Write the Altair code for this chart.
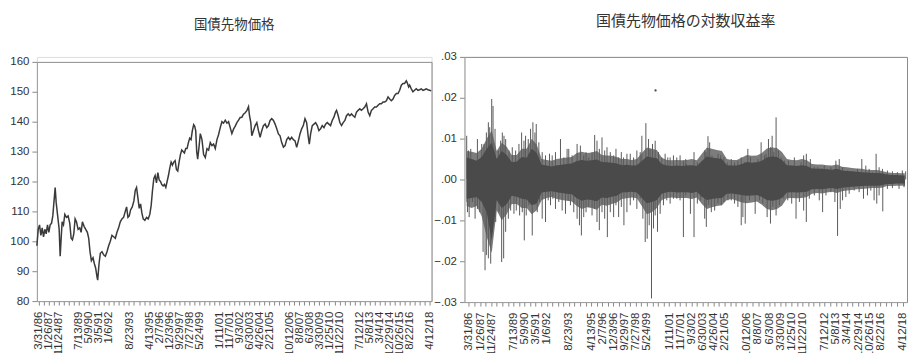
import altair as alt
import pandas as pd

# ---------------- data ----------------
panel_titles = ["国債先物価格", "国債先物価格の対数収益率"]

# x-axis labels, one per major tick (every 200 observations, starting at obs 40)
tick_labels = ["3/31/86", "1/26/87", "11/24/87", "", "7/13/89", "5/9/90", "3/5/91", "1/6/92", "",
               "8/23/93", "", "4/13/95", "2/7/96", "12/3/96", "9/29/97", "7/27/98", "5/24/99", "",
               "1/11/01", "11/7/01", "9/3/02", "6/30/03", "4/26/04", "2/21/05", "", "10/12/06",
               "8/8/07", "6/3/08", "3/30/09", "1/25/10", "11/22/10", "", "7/12/12", "5/8/13",
               "3/4/14", "12/29/14", "10/26/15", "8/22/16", "", "4/12/18"]

price_ticks = [80, 90, 100, 110, 120, 130, 140, 150, 160]
return_ticks = [-0.03, -0.02, -0.01, 0.0, 0.01, 0.02, 0.03]

price_points = [
    (0, 98.5), (27, 104), (53, 105.5), (80, 102), (106, 104.5), (133, 101.5), (159, 104),
    (186, 102.5), (212, 105.5), (239, 103), (265, 105.5), (292, 106), (318, 108.5), (345, 114),
    (365, 118), (385, 113), (405, 110), (425, 107), (445, 104), (465, 95), (485, 101),
    (504, 106.5), (531, 105.5), (558, 109), (591, 108), (624, 108.5), (657, 106), (684, 101),
    (710, 100.5), (737, 102.5), (763, 107.5), (790, 106.5), (823, 104), (856, 104.5), (883, 103),
    (909, 106.5), (942, 105), (975, 104), (1008, 103), (1035, 101), (1061, 96.5), (1088, 93.5),
    (1121, 94.5), (1148, 92.5), (1174, 91), (1201, 88), (1214, 87), (1241, 92.5), (1267, 96),
    (1300, 96.5), (1333, 95.5), (1367, 95), (1400, 96.5), (1433, 98.5), (1466, 100), (1499, 102),
    (1532, 101.5), (1566, 101), (1599, 103), (1632, 104.5), (1665, 106.5), (1698, 107.5),
    (1731, 108), (1765, 110), (1791, 111.5), (1818, 108), (1844, 108.5), (1871, 110.5),
    (1904, 111.5), (1937, 113.5), (1964, 117), (1990, 118), (2017, 114.5), (2043, 111),
    (2070, 112.5), (2096, 109.5), (2123, 107.5), (2156, 107), (2189, 108), (2222, 107.5),
    (2255, 109), (2282, 112), (2308, 117), (2335, 121), (2361, 122), (2388, 119.5), (2415, 123),
    (2441, 120.5), (2468, 120), (2494, 119), (2521, 118.5), (2547, 119), (2574, 118), (2600, 120),
    (2627, 122), (2653, 124.5), (2680, 126.5), (2706, 125.5), (2733, 126.5), (2760, 127),
    (2786, 124), (2812, 123.5), (2839, 126.5), (2866, 129), (2892, 130.5), (2919, 130),
    (2945, 129.5), (2972, 131), (2998, 131), (3025, 133), (3051, 134.5), (3078, 134), (3104, 137),
    (3131, 139), (3151, 138.5), (3171, 137), (3191, 130), (3210, 127.5), (3237, 131.5),
    (3263, 136), (3296, 134), (3329, 129), (3362, 128), (3396, 131), (3429, 130.5), (3462, 133),
    (3495, 132), (3528, 132.5), (3562, 131), (3595, 134), (3628, 135.7), (3661, 138), (3694, 140),
    (3727, 139.5), (3761, 140.5), (3794, 139.5), (3827, 140), (3860, 138), (3893, 136),
    (3926, 137.5), (3960, 138.5), (3993, 139.7), (4026, 140.5), (4059, 141.4), (4092, 141.5),
    (4125, 142.5), (4159, 143), (4192, 143.7), (4225, 145), (4245, 142), (4271, 139.7),
    (4291, 135.3), (4324, 137), (4358, 138.7), (4391, 139.7), (4424, 137), (4457, 134.8),
    (4490, 137), (4523, 138.7), (4557, 139.2), (4590, 138), (4623, 138.7), (4656, 140.4),
    (4689, 141), (4723, 140.4), (4756, 139.2), (4789, 137.6), (4822, 135.9), (4855, 135.3),
    (4888, 133), (4922, 131.5), (4955, 132), (4988, 134), (5021, 134.8), (5054, 134),
    (5087, 134.8), (5121, 134), (5154, 133.6), (5187, 131.4), (5220, 133.6), (5253, 135.9),
    (5286, 137.6), (5319, 138.7), (5353, 141), (5386, 139.7), (5419, 134.8), (5439, 132.5),
    (5465, 135.9), (5498, 138.7), (5532, 139.2), (5565, 139.7), (5598, 138.7), (5631, 137),
    (5664, 137.6), (5697, 138.7), (5731, 138), (5764, 139.2), (5797, 139.7), (5830, 139.2),
    (5863, 138.7), (5896, 140.4), (5930, 141.5), (5963, 143.2), (5983, 143.8), (6016, 142),
    (6049, 139.7), (6082, 138.7), (6115, 139.7), (6149, 140.4), (6182, 142), (6215, 142.6),
    (6248, 142), (6281, 142.6), (6314, 142), (6348, 141.5), (6381, 143.2), (6414, 143.8),
    (6447, 144.3), (6480, 143.8), (6513, 144.3), (6546, 144.9), (6580, 146), (6613, 143.2),
    (6646, 142), (6679, 143.8), (6712, 144.3), (6745, 144.9), (6779, 144.9), (6812, 145.5),
    (6845, 146), (6878, 146), (6911, 146.6), (6944, 146.6), (6978, 147), (7011, 148.3),
    (7044, 147.6), (7077, 147), (7110, 147.6), (7143, 148.8), (7177, 149.4), (7210, 149.4),
    (7243, 150.5), (7276, 152.2), (7309, 152.8), (7342, 152.8), (7375, 153.7), (7395, 153),
    (7422, 151.6), (7442, 152.2), (7475, 151), (7508, 150), (7541, 150.5), (7574, 151),
    (7608, 150.5), (7641, 150.7), (7674, 151), (7707, 150.5), (7740, 150.7), (7773, 151),
    (7806, 150.7), (7840, 150.5), (7873, 150.3),
]

# log-return series: dense dark core (obs, upper, lower)
return_core = [
    (0, 0.0054, -0.0047), (90, 0.0050, -0.0045), (180, 0.0046, -0.0043), (270, 0.0055, -0.0055),
    (360, 0.0075, -0.0080), (450, 0.0090, -0.0150), (540, 0.0050, -0.0050), (630, 0.0070, -0.0070),
    (720, 0.0060, -0.0060), (810, 0.0042, -0.0040), (900, 0.0044, -0.0042), (990, 0.0055, -0.0047),
    (1080, 0.0053, -0.0049), (1170, 0.0075, -0.0063), (1260, 0.0065, -0.0058), (1350, 0.0036, -0.0032),
    (1440, 0.0034, -0.0030), (1530, 0.0032, -0.0029), (1620, 0.0035, -0.0031), (1710, 0.0036, -0.0033),
    (1800, 0.0038, -0.0035), (1890, 0.0039, -0.0036), (1980, 0.0045, -0.0046), (2070, 0.0048, -0.0052),
    (2160, 0.0046, -0.0049), (2250, 0.0047, -0.0050), (2340, 0.0049, -0.0053), (2430, 0.0043, -0.0044),
    (2520, 0.0042, -0.0045), (2610, 0.0041, -0.0042), (2700, 0.0039, -0.0040), (2790, 0.0035, -0.0032),
    (2880, 0.0036, -0.0031), (2970, 0.0034, -0.0030), (3060, 0.0035, -0.0032), (3150, 0.0045, -0.0045),
    (3240, 0.0056, -0.0058), (3330, 0.0054, -0.0055), (3420, 0.0052, -0.0050), (3510, 0.0038, -0.0035),
    (3600, 0.0034, -0.0031), (3690, 0.0033, -0.0030), (3780, 0.0034, -0.0032), (3870, 0.0033, -0.0031),
    (3960, 0.0034, -0.0031), (4050, 0.0035, -0.0033), (4140, 0.0033, -0.0030), (4230, 0.0045, -0.0042),
    (4320, 0.0056, -0.0050), (4410, 0.0054, -0.0048), (4500, 0.0052, -0.0046), (4590, 0.0050, -0.0045),
    (4680, 0.0035, -0.0035), (4770, 0.0034, -0.0034), (4860, 0.0034, -0.0036), (4950, 0.0038, -0.0038),
    (5040, 0.0043, -0.0040), (5130, 0.0041, -0.0039), (5220, 0.0042, -0.0038), (5310, 0.0046, -0.0043),
    (5400, 0.0054, -0.0050), (5490, 0.0056, -0.0052), (5580, 0.0055, -0.0050), (5670, 0.0048, -0.0045),
    (5760, 0.0035, -0.0032), (5850, 0.0034, -0.0031), (5940, 0.0033, -0.0032), (6030, 0.0035, -0.0031),
    (6120, 0.0033, -0.0030), (6210, 0.0027, -0.0024), (6300, 0.0026, -0.0023), (6390, 0.0026, -0.0024),
    (6480, 0.0025, -0.0022), (6570, 0.0024, -0.0021), (6660, 0.0026, -0.0023), (6750, 0.0022, -0.0020),
    (6840, 0.0021, -0.0019), (6930, 0.0020, -0.0018), (7020, 0.0019, -0.0017), (7110, 0.0018, -0.0016),
    (7200, 0.0017, -0.0015), (7290, 0.0016, -0.0015), (7380, 0.0016, -0.0015), (7470, 0.0015, -0.0014),
    (7560, 0.0012, -0.0011), (7650, 0.0011, -0.0011), (7740, 0.0011, -0.0010), (7830, 0.0010, -0.0010),
    (7880, 0.0010, -0.0010),
]

# lighter fringe of frequent moderate returns (obs, upper, lower)
return_fringe = [
    (0, 0.0070, -0.0065), (90, 0.0068, -0.0070), (180, 0.0065, -0.0065), (270, 0.0075, -0.0090),
    (360, 0.0100, -0.0140), (450, 0.0120, -0.0180), (540, 0.0070, -0.0075), (630, 0.0090, -0.0100),
    (720, 0.0080, -0.0085), (810, 0.0060, -0.0060), (900, 0.0060, -0.0060), (990, 0.0075, -0.0070),
    (1080, 0.0075, -0.0070), (1170, 0.0100, -0.0085), (1260, 0.0085, -0.0075), (1350, 0.0050, -0.0050),
    (1440, 0.0048, -0.0045), (1530, 0.0046, -0.0043), (1620, 0.0050, -0.0048), (1710, 0.0052, -0.0050),
    (1800, 0.0054, -0.0052), (1890, 0.0055, -0.0054), (1980, 0.0065, -0.0065), (2070, 0.0068, -0.0072),
    (2160, 0.0065, -0.0068), (2250, 0.0066, -0.0070), (2340, 0.0070, -0.0074), (2430, 0.0060, -0.0062),
    (2520, 0.0059, -0.0064), (2610, 0.0058, -0.0060), (2700, 0.0055, -0.0056), (2790, 0.0050, -0.0048),
    (2880, 0.0050, -0.0046), (2970, 0.0048, -0.0044), (3060, 0.0050, -0.0046), (3150, 0.0065, -0.0065),
    (3240, 0.0078, -0.0085), (3330, 0.0075, -0.0080), (3420, 0.0072, -0.0070), (3510, 0.0053, -0.0050),
    (3600, 0.0048, -0.0045), (3690, 0.0047, -0.0044), (3780, 0.0048, -0.0045), (3870, 0.0047, -0.0045),
    (3960, 0.0048, -0.0045), (4050, 0.0050, -0.0048), (4140, 0.0047, -0.0044), (4230, 0.0063, -0.0060),
    (4320, 0.0078, -0.0072), (4410, 0.0075, -0.0068), (4500, 0.0072, -0.0065), (4590, 0.0070, -0.0063),
    (4680, 0.0050, -0.0050), (4770, 0.0048, -0.0048), (4860, 0.0048, -0.0052), (4950, 0.0054, -0.0056),
    (5040, 0.0060, -0.0058), (5130, 0.0058, -0.0056), (5220, 0.0059, -0.0054), (5310, 0.0065, -0.0062),
    (5400, 0.0076, -0.0072), (5490, 0.0078, -0.0075), (5580, 0.0077, -0.0072), (5670, 0.0067, -0.0064),
    (5760, 0.0050, -0.0046), (5850, 0.0048, -0.0045), (5940, 0.0047, -0.0046), (6030, 0.0050, -0.0045),
    (6120, 0.0047, -0.0043), (6210, 0.0038, -0.0035), (6300, 0.0037, -0.0033), (6390, 0.0037, -0.0034),
    (6480, 0.0035, -0.0032), (6570, 0.0034, -0.0030), (6660, 0.0037, -0.0033), (6750, 0.0031, -0.0029),
    (6840, 0.0030, -0.0027), (6930, 0.0028, -0.0026), (7020, 0.0027, -0.0024), (7110, 0.0026, -0.0023),
    (7200, 0.0024, -0.0022), (7290, 0.0023, -0.0021), (7380, 0.0023, -0.0021), (7470, 0.0021, -0.0020),
    (7560, 0.0018, -0.0016), (7650, 0.0016, -0.0016), (7740, 0.0016, -0.0015), (7830, 0.0015, -0.0015),
    (7880, 0.0015, -0.0015),
]

# individual large log returns (obs, value)
return_spikes = [
    (0, 0.0107), (32, 0.0071), (73, 0.0075), (193, 0.0099), (271, 0.0087), (312, 0.0087),
    (354, 0.0115), (390, 0.0140), (414, 0.0128), (450, 0.0197), (474, 0.0180), (510, 0.0124),
    (569, 0.0071), (611, 0.0095), (641, 0.0115), (671, 0.0107), (701, 0.0099), (761, 0.0071),
    (820, 0.0079), (880, 0.0071), (940, 0.0087), (988, 0.0115), (1030, 0.0095), (1059, 0.0107),
    (1107, 0.0099), (1149, 0.0124), (1191, 0.0140), (1227, 0.0115), (1251, 0.0136), (1298, 0.0091),
    (1358, 0.0067), (1418, 0.0059), (1490, 0.0063), (1538, 0.0059), (1597, 0.0067), (1687, 0.0099),
    (1747, 0.0054), (1806, 0.0075), (1836, 0.0075), (1896, 0.0059), (1986, 0.0087), (2045, 0.0083),
    (2105, 0.0059), (2147, 0.0067), (2195, 0.0054), (2255, 0.0067), (2302, 0.0109), (2344, 0.0095),
    (2386, 0.0075), (2434, 0.0103), (2482, 0.0071), (2524, 0.0079), (2583, 0.0067), (2643, 0.0059),
    (2685, 0.0075), (2733, 0.0054), (2781, 0.0067), (2822, 0.0054), (2882, 0.0063), (2942, 0.0063),
    (3002, 0.0054), (3061, 0.0071), (3121, 0.0067), (3151, 0.0107), (3223, 0.0138), (3271, 0.0099),
    (3300, 0.0075), (3342, 0.0087), (3390, 0.0095), (3450, 0.0067), (3510, 0.0054), (3569, 0.0063),
    (3617, 0.0054), (3659, 0.0054), (3719, 0.0059), (3779, 0.0054), (3838, 0.0059), (3898, 0.0046),
    (3940, 0.0050),
    (5, -0.0055), (14, -0.0080), (44, -0.0092), (103, -0.0055), (151, -0.0096), (193, -0.0072),
    (235, -0.0080), (295, -0.0177), (330, -0.0222), (354, -0.0185), (390, -0.0193), (432, -0.0206),
    (462, -0.0128), (492, -0.0104), (522, -0.0104), (581, -0.0080), (629, -0.0202), (665, -0.0193),
    (701, -0.0128), (749, -0.0096), (791, -0.0076), (850, -0.0084), (892, -0.0076), (952, -0.0088),
    (1000, -0.0080), (1036, -0.0149), (1071, -0.0088), (1119, -0.0063), (1179, -0.0137),
    (1227, -0.0063), (1269, -0.0080), (1310, -0.0055), (1358, -0.0096), (1418, -0.0104),
    (1466, -0.0051), (1508, -0.0063), (1550, -0.0047), (1597, -0.0072), (1657, -0.0055),
    (1717, -0.0076), (1777, -0.0084), (1824, -0.0051), (1866, -0.0063), (1926, -0.0080),
    (1986, -0.0096), (2028, -0.0112), (2063, -0.0137), (2105, -0.0092), (2147, -0.0080),
    (2195, -0.0067), (2255, -0.0088), (2297, -0.0072), (2344, -0.0104), (2386, -0.0124),
    (2434, -0.0080), (2482, -0.0096), (2530, -0.0141), (2583, -0.0080), (2643, -0.0092),
    (2685, -0.0063), (2733, -0.0092), (2781, -0.0067), (2828, -0.0112), (2882, -0.0080),
    (2942, -0.0063), (3002, -0.0051), (3061, -0.0072), (3121, -0.0047), (3169, -0.0096),
    (3211, -0.0153), (3247, -0.0145), (3283, -0.0112), (3324, -0.0291), (3360, -0.0120),
    (3390, -0.0088), (3432, -0.0128), (3480, -0.0084), (3539, -0.0063), (3599, -0.0051),
    (3659, -0.0059), (3719, -0.0047), (3779, -0.0047), (3838, -0.0051), (3898, -0.0141),
    (3940, -0.0039),
    (3952, 0.0038), (4012, 0.0034), (4089, 0.0067), (4149, 0.0042), (4191, 0.0034), (4281, 0.0071),
    (4304, 0.0067), (4340, 0.0106), (4370, 0.0091), (4412, 0.0059), (4460, 0.0050), (4520, 0.0063),
    (4567, 0.0059), (4627, 0.0054), (4687, 0.0042), (4759, 0.0050), (4818, 0.0042), (4878, 0.0046),
    (4938, 0.0054), (4998, 0.0042), (5057, 0.0075), (5105, 0.0054), (5177, 0.0042), (5237, 0.0050),
    (5296, 0.0091), (5356, 0.0059), (5386, 0.0063), (5428, 0.0099), (5464, 0.0079), (5494, 0.0107),
    (5524, 0.0067), (5565, 0.0152), (5607, 0.0071), (5655, 0.0054), (5715, 0.0046), (5787, 0.0046),
    (5834, 0.0034), (5894, 0.0054), (5954, 0.0034), (6014, 0.0042), (6061, 0.0059), (6109, 0.0063),
    (6181, 0.0050), (6253, 0.0030), (6312, 0.0030), (6372, 0.0026), (6432, 0.0034), (6492, 0.0026),
    (6551, 0.0030), (6641, 0.0046), (6701, 0.0050), (6761, 0.0030), (6850, 0.0022), (6940, 0.0016),
    (7030, 0.0026), (7107, 0.0050), (7179, 0.0034), (7239, 0.0026), (7298, 0.0018), (7364, 0.0063),
    (7418, 0.0030), (7478, 0.0026), (7567, 0.0022), (7657, 0.0020), (7747, 0.0018), (7836, 0.0022),
    (7896, 0.0020),
    (3940, -0.0031), (4024, -0.0084), (4089, -0.0141), (4149, -0.0059), (4209, -0.0051),
    (4281, -0.0096), (4310, -0.0116), (4352, -0.0063), (4400, -0.0080), (4460, -0.0076),
    (4520, -0.0059), (4579, -0.0063), (4627, -0.0055), (4699, -0.0051), (4759, -0.0051),
    (4818, -0.0059), (4878, -0.0067), (4938, -0.0112), (4968, -0.0092), (5010, -0.0108),
    (5087, -0.0051), (5189, -0.0084), (5267, -0.0051), (5326, -0.0059), (5404, -0.0092),
    (5464, -0.0108), (5506, -0.0067), (5565, -0.0088), (5625, -0.0063), (5703, -0.0047),
    (5775, -0.0051), (5846, -0.0059), (5924, -0.0096), (5984, -0.0055), (6061, -0.0076),
    (6109, -0.0104), (6163, -0.0047), (6253, -0.0039), (6342, -0.0051), (6402, -0.0080),
    (6462, -0.0039), (6551, -0.0031), (6623, -0.0055), (6671, -0.0138), (6719, -0.0072),
    (6761, -0.0051), (6820, -0.0043), (6880, -0.0035), (6970, -0.0027), (7059, -0.0031),
    (7137, -0.0047), (7209, -0.0039), (7269, -0.0027), (7328, -0.0051), (7376, -0.0059),
    (7418, -0.0039), (7484, -0.0078), (7567, -0.0023), (7657, -0.0021), (7777, -0.0023),
    (7866, -0.0019), (7875, -0.0015),
]

# isolated point near .022
return_dot = [(3397, 0.0218)]

# ---------------- frames ----------------
price_obs_range = [0, 7880]
return_obs_range = [-40, 7920]

price_df = pd.DataFrame(price_points, columns=["obs", "price"])
core_df = pd.DataFrame(return_core, columns=["obs", "hi", "lo"])
fringe_df = pd.DataFrame(return_fringe, columns=["obs", "hi", "lo"])
spike_df = pd.DataFrame(return_spikes, columns=["obs", "ret"])
dot_df = pd.DataFrame(return_dot, columns=["obs", "ret"])

tick_vals = [40 + 100 * k for k in range(2 * len(tick_labels) - 1)]
label_array = "[" + ",".join("'" + s + "'" for s in tick_labels) + "]"
label_expr = "datum.value % 200 == 40 ? " + label_array + "[(datum.value - 40) / 200] : ''"

FRAME = "#8c8c8c"
AX = dict(grid=False, domainColor="#9a9a9a", tickColor="#8a8a8a", labelColor="#333333",
          labelFont="Liberation Sans", labelFontSize=11.5, title=None)

x_axis = alt.Axis(orient="bottom", values=tick_vals, labelExpr=label_expr,
                  labelAngle=270, labelOverlap=False, labelFlush=False, labelBound=False,
                  tickSize=4, labelPadding=6, **AX)
yl_axis = alt.Axis(orient="left", values=price_ticks, tickSize=5, labelPadding=3, **AX)
yr_axis = alt.Axis(orient="left", values=return_ticks, tickSize=5, labelPadding=3,
                   labelExpr="replace(format(datum.value, '.2f'), '0.', '.')", **AX)


def frame_axis(orient, off=0):
    # bare axis line used as the top / right edge of a plot box
    return alt.Axis(orient=orient, offset=off, labels=False, ticks=False, domain=True,
                    domainColor=FRAME, grid=False, title=None)


# left view spans y 56..301; price range 160..80 sits in 61..301
xl = alt.Scale(domain=price_obs_range, nice=False, zero=False)
yl = alt.Scale(domain=[price_ticks[0], price_ticks[-1]], range=[245, 5], nice=False, zero=False)
xr = alt.Scale(domain=return_obs_range, nice=False, zero=False)
yr = alt.Scale(domain=[return_ticks[0], return_ticks[-1]], nice=False, zero=False)

left_line = alt.Chart(price_df).mark_line(color="#3a3a3a", strokeWidth=1.5).encode(
    x=alt.X("obs:Q", scale=xl, axis=x_axis),
    y=alt.Y("price:Q", scale=yl, axis=yl_axis))

left_edges = alt.Chart(price_df).mark_line(opacity=0).encode(
    x=alt.X("obs:Q", scale=xl, axis=frame_axis("top", -5)),
    y=alt.Y("price:Q", scale=yl, axis=frame_axis("right")))

left = alt.layer(left_line, left_edges).resolve_axis(x="independent", y="independent").properties(
    width=396, height=245,
    title=alt.TitleParams(panel_titles[0], font="Noto Sans CJK JP", fontSize=13.5,
                          fontWeight="normal", color="#333333", anchor="middle",
                          frame="group", baseline="bottom", offset=10))

fringe = alt.Chart(fringe_df).mark_area(color="#7c7c7c", opacity=1).encode(
    x=alt.X("obs:Q", scale=xr, axis=x_axis),
    y=alt.Y("hi:Q", scale=yr, axis=yr_axis), y2="lo:Q")

spikes = alt.Chart(spike_df).mark_rule(color="#5a5a5a", strokeWidth=1).encode(
    x=alt.X("obs:Q", scale=xr, axis=x_axis),
    y=alt.Y("ret:Q", scale=yr, axis=yr_axis),
    y2=alt.datum(0))

core = alt.Chart(core_df).mark_area(color="#4a4a4a", opacity=1).encode(
    x=alt.X("obs:Q", scale=xr, axis=x_axis),
    y=alt.Y("hi:Q", scale=yr, axis=yr_axis), y2="lo:Q")

dot = alt.Chart(dot_df).mark_circle(color="#444444", size=5, opacity=1).encode(
    x=alt.X("obs:Q", scale=xr, axis=x_axis),
    y=alt.Y("ret:Q", scale=yr, axis=yr_axis))

right_edges = alt.Chart(dot_df).mark_circle(opacity=0).encode(
    x=alt.X("obs:Q", scale=xr, axis=frame_axis("top")),
    y=alt.Y("ret:Q", scale=yr, axis=frame_axis("right")))

# inner layer shares one set of axes; the edge layer adds the top/right box lines
right = alt.layer(
    alt.layer(fringe, spikes, core, dot), right_edges
).resolve_axis(x="independent", y="independent").properties(
    width=444, height=246,
    title=alt.TitleParams(panel_titles[1], font="Noto Sans CJK JP", fontSize=15,
                          fontWeight="normal", color="#333333", anchor="middle",
                          frame="group", baseline="bottom", offset=7.5))

chart = alt.hconcat(left, right, spacing=33, bounds="flush").properties(
    padding={"left": 9, "top": 12.5, "right": 0, "bottom": 0}
).configure_view(stroke="transparent").configure(background="white")

chart.save("out.html", embed_options={"renderer": "svg", "actions": False})
